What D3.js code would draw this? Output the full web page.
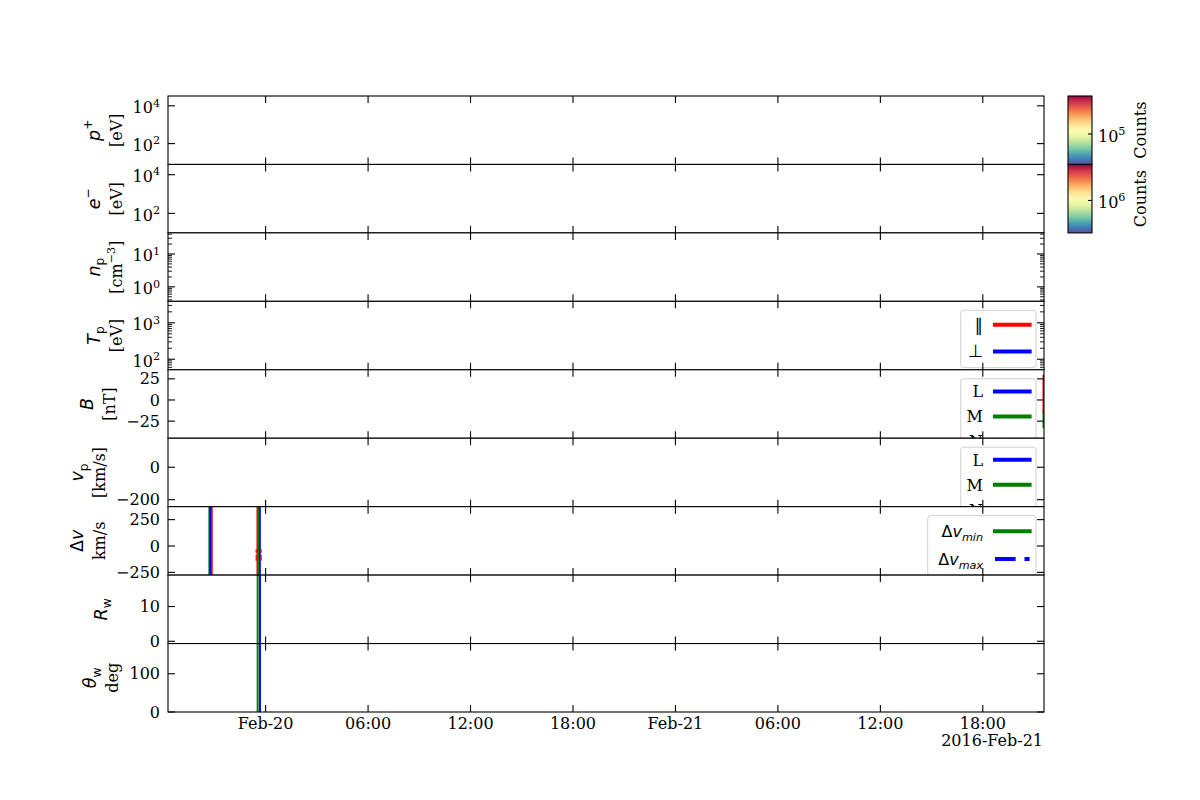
<!DOCTYPE html>
<html><head><meta charset="utf-8">
<script src="https://cdn.jsdelivr.net/npm/d3@7"></script>
<style>body{margin:0;background:#fff} svg{display:block}</style>
</head><body><svg id="c" width="1200" height="800"></svg>
<script>
// ---------------- data ----------------
const timeDomain = ["2016-02-19T18:17", "2016-02-21T21:35"];
const xTickTimes = ["2016-02-20T00:00","2016-02-20T06:00","2016-02-20T12:00","2016-02-20T18:00",
                    "2016-02-21T00:00","2016-02-21T06:00","2016-02-21T12:00","2016-02-21T18:00"];
const xTickLabels = ["Feb-20","06:00","12:00","18:00","Feb-21","06:00","12:00","18:00"];
const xOffsetText = "2016-Feb-21";

const protonEnergyRange = [7.9, 33000];
const protonEnergyTicks = [1e2, 1e4];
const electronEnergyRange = [9.8, 33900];
const electronEnergyTicks = [1e2, 1e4];
const densityRange = [0.363, 43.7];
const densityTicks = [1, 10];
const tempRange = [51.3, 3890];
const tempTicks = [100, 1000];
const bRange = [-45.2, 35.7];
const bTicks = [-25, 0, 25];
const vRange = [-243, 179];
const vTicks = [-200, 0];
const dvRange = [-276, 373];
const dvTicks = [-250, 0, 250];
const rwRange = [-0.66, 19.05];
const rwTicks = [0, 10];
const thetaRange = [0, 179];
const thetaTicks = [0, 100];

// spike records: [time, low value, high value]
const dvOtherSpikes = [["2016-02-19T20:51", -900, 900], ["2016-02-19T23:31", -900, 900]];
const dvMinSpikes = [["2016-02-19T20:42", -900, 900], ["2016-02-19T23:35", -900, 900]];
const dvMaxSpikes = [["2016-02-19T20:46", -900, 900], ["2016-02-19T23:40", -900, 900]];
const dvMarks = [["2016-02-19T23:27", -140, -30], ["2016-02-19T23:44", -140, -30]];
const rwMinSpikes = [["2016-02-19T23:32", -50, 50]];
const rwMaxSpikes = [["2016-02-19T23:40", -50, 50]];
const thetaMinSpikes = [["2016-02-19T23:32", -500, 500]];
const thetaMaxSpikes = [["2016-02-19T23:40", -500, 500]];
const bMSpikes = [["2016-02-21T21:33", -33.3, -11.9]];
const bNSpikes = [["2016-02-21T21:33", -15.5, 29.8]];

const cbarProtonRange = [39800, 316000];
const cbarProtonTicks = [1e5];
const cbarElectronRange = [355000, 3160000];
const cbarElectronTicks = [1e6];
const cbarLabel = "Counts";

const tempLegendLabels = ["∥", "⊥"];
const lmnLegendLabels = ["L", "M", "N"];
const dvLegendLabels = ["min", "max"];

// ---------------- setup ----------------
const svg = d3.select("#c");
const SERIF = "'DejaVu Serif', serif", SANS = "'DejaVu Sans', sans-serif";
const FS = 16, FSM = 17.5;
const L = 168, R = 1044, T = 96, B = 712, NP = 9, PH = (B - T) / NP;
const RED = "#ff0000", BLUE = "#0000ff", GREEN = "#008000";
const parseT = d3.utcParse("%Y-%m-%dT%H:%M");
const x = d3.scaleUtc().domain(timeDomain.map(parseT)).range([L, R]);

function rich(textSel, segs, fs) {
  let shift = 0;
  segs.forEach(s => {
    let target = 0, size = fs;
    if (s.pos === "sup") { target = -0.42 * fs; size = 0.7 * fs; }
    if (s.pos === "sub") { target = 0.27 * fs; size = 0.7 * fs; }
    textSel.append("tspan").text(s.t)
      .attr("dy", target - shift)
      .attr("font-size", size)
      .attr("font-family", s.f === "sans" ? SANS : SERIF)
      .attr("font-style", s.it ? "italic" : "normal")
      .attr("fill", "#000");
    shift = target;
  });
}
const S = (t, pos) => ({t, f: "serif", it: false, pos});
const I = (t, pos) => ({t, f: "sans", it: true, pos});
const M = (t, pos) => ({t, f: "sans", it: false, pos});
const fmtNum = d => d < 0 ? "−" + Math.abs(d) : String(d);
const logLabel = d => [S("10"), S(String(Math.round(Math.log10(d))), "sup")];

const panels = [
  {log: true, dom: protonEnergyRange, ticks: protonEnergyTicks, minor: false,
   l1: [I("p"), M("+", "sup")], l2: [S("[eV]")]},
  {log: true, dom: electronEnergyRange, ticks: electronEnergyTicks, minor: false,
   l1: [I("e"), M("−", "sup")], l2: [S("[eV]")]},
  {log: true, dom: densityRange, ticks: densityTicks, minor: true,
   l1: [I("n"), M("p", "sub")], l2: [S("[cm"), S("−3", "sup"), S("]")]},
  {log: true, dom: tempRange, ticks: tempTicks, minor: true,
   l1: [I("T"), M("p", "sub")], l2: [S("[eV]")],
   legend: {labels: tempLegendLabels.map(t => [M(t)]), colors: [RED, BLUE], dash: [null, null],
            width: 75.3, first: 14.5, step: 26.6, height: 57.3}},
  {log: false, dom: bRange, ticks: bTicks,
   l1: [I("B")], l2: [S("[nT]")],
   spikes: [[bMSpikes, GREEN, 1.8, null], [bNSpikes, RED, 1.8, null]],
   legend: {labels: lmnLegendLabels.map(t => [S(t)]), colors: [BLUE, GREEN, RED], dash: [null, null, null],
            width: 75.3, first: 12.7, step: 25, height: 76}},
  {log: false, dom: vRange, ticks: vTicks,
   l1: [I("v"), M("p", "sub")], l2: [S("[km/s]")],
   legend: {labels: lmnLegendLabels.map(t => [S(t)]), colors: [BLUE, GREEN, RED], dash: [null, null, null],
            width: 75.3, first: 12.5, step: 25, height: 76}},
  {log: false, dom: dvRange, ticks: dvTicks,
   l1: [M("Δ"), I("v")], l2: [S("km/s")],
   spikes: [[dvOtherSpikes, RED, 1.8, null], [dvMinSpikes, GREEN, 1.8, null], [dvMaxSpikes, BLUE, 1.8, null],
            [dvMarks, RED, 1.3, "6,2"]],
   legend: {labels: dvLegendLabels.map(t => [M("Δ"), I("v"), I(t, "sub")]), colors: [GREEN, BLUE], dash: [null, "20.6,8.9"],
            width: 108.3, first: 15.7, step: 27.6, height: 60}},
  {log: false, dom: rwRange, ticks: rwTicks,
   l1: [I("R"), M("w", "sub")], l2: [],
   spikes: [[rwMinSpikes, GREEN, 2, null], [rwMaxSpikes, BLUE, 2, null]]},
  {log: false, dom: thetaRange, ticks: thetaTicks,
   l1: [I("θ"), M("w", "sub")], l2: [S("deg")],
   spikes: [[thetaMinSpikes, GREEN, 2, null], [thetaMaxSpikes, BLUE, 2, null]]}
];

const defs = svg.append("defs");

panels.forEach((p, i) => {
  const y0 = T + i * PH, y1 = y0 + PH;
  const y = (p.log ? d3.scaleLog() : d3.scaleLinear()).domain(p.dom).range([y1, y0]);
  const g = svg.append("g");
  g.append("rect").attr("x", L).attr("y", y0).attr("width", R - L).attr("height", PH).attr("fill", "#fff");

  defs.append("clipPath").attr("id", "clip" + i)
    .append("rect").attr("x", L).attr("y", y0).attr("width", R - L).attr("height", PH);
  const content = g.append("g").attr("clip-path", `url(#clip${i})`);

  (p.spikes || []).forEach(([rows, color, w, dash]) => {
    content.selectAll(null).data(rows).join("line")
      .attr("x1", d => x(parseT(d[0]))).attr("x2", d => x(parseT(d[0])))
      .attr("y1", d => y(d[1])).attr("y2", d => y(d[2]))
      .attr("stroke", color).attr("stroke-width", w)
      .attr("stroke-dasharray", dash);
  });

  if (p.legend) {
    const lg = p.legend;
    const bx1 = R - 8, bx0 = bx1 - lg.width, by0 = y0 + 9;
    const lgG = g.append("g");
    lgG.append("rect").attr("x", bx0).attr("y", by0).attr("width", lg.width).attr("height", lg.height)
      .attr("rx", 3).attr("fill", "rgba(255,255,255,0.8)").attr("stroke", "#d0d0d0").attr("stroke-width", 1);
    lg.labels.forEach((segs, k) => {
      const cy = by0 + lg.first + k * lg.step;
      const t = lgG.append("text").attr("x", bx1 - 53).attr("y", cy + 5.8)
        .attr("text-anchor", "end").attr("font-size", FS).attr("fill", "#000");
      rich(t, segs, i === 3 ? FSM : FS);
      lgG.append("line").attr("x1", bx1 - 41).attr("x2", bx1 - 6.4).attr("y1", cy).attr("y2", cy)
        .attr("stroke", lg.colors[k]).attr("stroke-width", 4)
        .attr("stroke-linecap", lg.dash[k] ? "butt" : "square")
        .attr("stroke-dasharray", lg.dash[k]);
    });
  }

  g.append("rect").attr("x", L).attr("y", y0).attr("width", R - L).attr("height", PH)
    .attr("fill", "none").attr("stroke", "#000").attr("stroke-width", 1.1);

  xTickTimes.forEach(ts => {
    const xx = x(parseT(ts));
    g.append("line").attr("x1", xx).attr("x2", xx).attr("y1", y0).attr("y2", y0 + 7).attr("stroke", "#000").attr("stroke-width", 1.1);
    g.append("line").attr("x1", xx).attr("x2", xx).attr("y1", y1).attr("y2", y1 - 7).attr("stroke", "#000").attr("stroke-width", 1.1);
  });

  const tickG = g.append("g");
  p.ticks.forEach(v => {
    const yy = y(v);
    tickG.append("line").attr("x1", L).attr("x2", L + 7).attr("y1", yy).attr("y2", yy).attr("stroke", "#000").attr("stroke-width", 1.1);
    tickG.append("line").attr("x1", R - 7).attr("x2", R).attr("y1", yy).attr("y2", yy).attr("stroke", "#000").attr("stroke-width", 1.1);
  });
  if (p.log && p.minor) {
    const e0 = Math.floor(Math.log10(p.dom[0])), e1 = Math.ceil(Math.log10(p.dom[1]));
    for (let e = e0; e <= e1; e++) for (let k = 2; k <= 9; k++) {
      const v = k * Math.pow(10, e);
      if (v < p.dom[0] || v > p.dom[1]) continue;
      const yy = y(v);
      tickG.append("line").attr("x1", L).attr("x2", L + 4).attr("y1", yy).attr("y2", yy).attr("stroke", "#000").attr("stroke-width", 0.9);
      tickG.append("line").attr("x1", R - 4).attr("x2", R).attr("y1", yy).attr("y2", yy).attr("stroke", "#000").attr("stroke-width", 0.9);
    }
  }
  let minLeft = 1e9;
  p.ticks.forEach(v => {
    const t = g.append("text").attr("x", 160).attr("y", y(v) + 5.6)
      .attr("text-anchor", "end").attr("font-size", FS).attr("fill", "#000");
    if (p.log) { rich(t, logLabel(v), FS); t.attr("y", y(v) + 7.5); }
    else t.attr("font-family", SERIF).text(fmtNum(v));
    const bb = t.node().getBBox();
    minLeft = Math.min(minLeft, bb.x);
  });

  const cy = (y0 + y1) / 2;
  const b2 = minLeft - 11, b1 = b2 - 22;
  const t1 = g.append("text").attr("transform", `translate(${b1},${cy}) rotate(-90)`)
    .attr("text-anchor", "middle").attr("font-size", FSM);
  rich(t1, p.l1, FSM);
  if (p.l2.length) {
    const t2 = g.append("text").attr("transform", `translate(${b2},${cy}) rotate(-90)`)
      .attr("text-anchor", "middle").attr("font-size", FS);
    rich(t2, p.l2, FS);
  }

  if (i === NP - 1) {
    xTickTimes.forEach((ts, k) => {
      g.append("text").attr("x", x(parseT(ts))).attr("y", 729).attr("text-anchor", "middle")
        .attr("font-family", SERIF).attr("font-size", FS).text(xTickLabels[k]);
    });
    g.append("text").attr("x", R - 1).attr("y", 746).attr("text-anchor", "end")
      .attr("font-family", SERIF).attr("font-size", FS).text(xOffsetText);
  }
});

const grad = defs.append("linearGradient").attr("id", "spec").attr("x1", 0).attr("y1", 1).attr("x2", 0).attr("y2", 0);
d3.range(0, 1.0001, 0.05).forEach(t => grad.append("stop").attr("offset", t).attr("stop-color", d3.interpolateSpectral(1 - t)));

[[cbarProtonRange, cbarProtonTicks, 0], [cbarElectronRange, cbarElectronTicks, 1]].forEach(([dom, ticks, k]) => {
  const y0 = T + k * PH, y1 = y0 + PH, cx0 = 1068, cx1 = 1092;
  const cy = d3.scaleLog().domain(dom).range([y1, y0]);
  svg.append("rect").attr("x", cx0).attr("y", y0).attr("width", cx1 - cx0).attr("height", PH).attr("fill", "url(#spec)");
  svg.append("rect").attr("x", cx0).attr("y", y0).attr("width", cx1 - cx0).attr("height", PH)
    .attr("fill", "none").attr("stroke", "#000").attr("stroke-width", 1.1);
  ticks.forEach(v => {
    svg.append("line").attr("x1", cx1 - 4).attr("x2", cx1).attr("y1", cy(v)).attr("y2", cy(v)).attr("stroke", "#000").attr("stroke-width", 1.1);
    const t = svg.append("text").attr("x", 1098).attr("y", cy(v) + 7.5).attr("font-size", FS);
    rich(t, logLabel(v), FS);
  });
  svg.append("text").attr("transform", `translate(1146,${(y0 + y1) / 2}) rotate(-90)`)
    .attr("text-anchor", "middle").attr("font-family", SERIF).attr("font-size", FS).text(cbarLabel);
});
</script></body></html>
